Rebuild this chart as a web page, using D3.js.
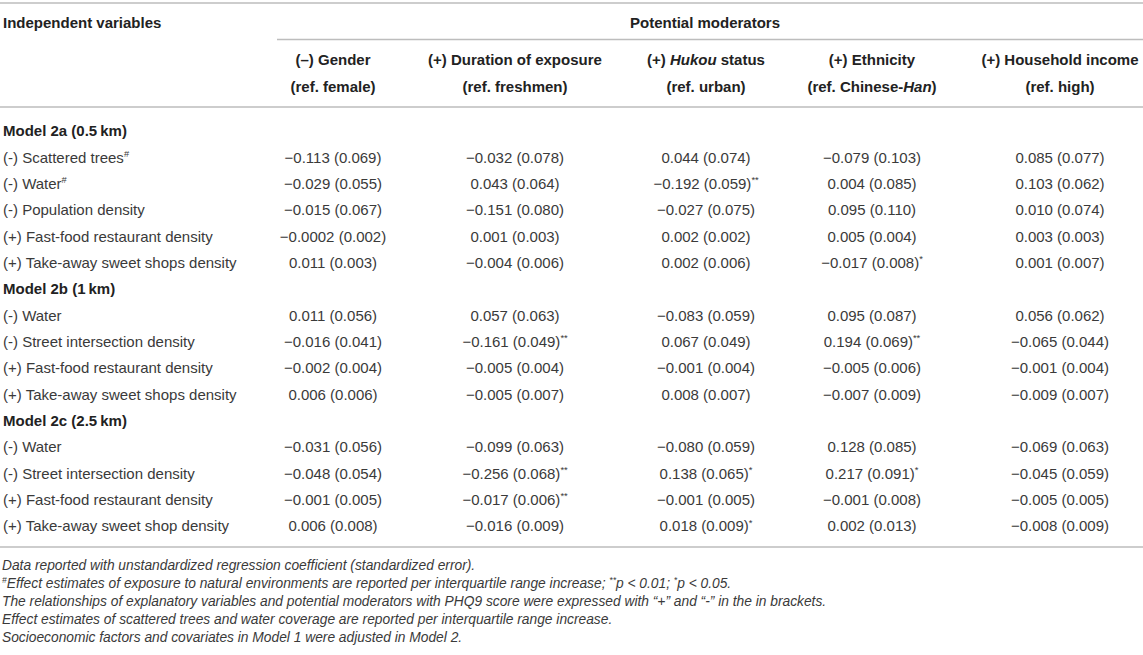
<!DOCTYPE html>
<html><head><meta charset="utf-8">
<script src="https://cdn.jsdelivr.net/npm/d3@7"></script>
<style>body{margin:0;background:#fff} svg{display:block}</style>
</head><body><svg id="c" width="1143" height="655"></svg>
<script>
// ---- data ----
const moderators = ["(–) Gender","(+) Duration of exposure","(+) _Hukou_ status","(+) Ethnicity","(+) Household income"];
const references = ["(ref. female)","(ref. freshmen)","(ref. urban)","(ref. Chinese-_Han_)","(ref. high)"];
const groups = ["Model 2a (0.5\u2009km)","Model 2b (1\u2009km)","Model 2c (2.5\u2009km)"];
const variables2a = ["(-) Scattered trees^{#}","(-) Water^{#}","(-) Population density","(+) Fast-food restaurant density","(+) Take-away sweet shops density"];
const values2a = [
 ["−0.113 (0.069)","−0.032 (0.078)","0.044 (0.074)","−0.079 (0.103)","0.085 (0.077)"],
 ["−0.029 (0.055)","0.043 (0.064)","−0.192 (0.059)^{**}","0.004 (0.085)","0.103 (0.062)"],
 ["−0.015 (0.067)","−0.151 (0.080)","−0.027 (0.075)","0.095 (0.110)","0.010 (0.074)"],
 ["−0.0002 (0.002)","0.001 (0.003)","0.002 (0.002)","0.005 (0.004)","0.003 (0.003)"],
 ["0.011 (0.003)","−0.004 (0.006)","0.002 (0.006)","−0.017 (0.008)^{*}","0.001 (0.007)"]];
const variables2b = ["(-) Water","(-) Street intersection density","(+) Fast-food restaurant density","(+) Take-away sweet shops density"];
const values2b = [
 ["0.011 (0.056)","0.057 (0.063)","−0.083 (0.059)","0.095 (0.087)","0.056 (0.062)"],
 ["−0.016 (0.041)","−0.161 (0.049)^{**}","0.067 (0.049)","0.194 (0.069)^{**}","−0.065 (0.044)"],
 ["−0.002 (0.004)","−0.005 (0.004)","−0.001 (0.004)","−0.005 (0.006)","−0.001 (0.004)"],
 ["0.006 (0.006)","−0.005 (0.007)","0.008 (0.007)","−0.007 (0.009)","−0.009 (0.007)"]];
const variables2c = ["(-) Water","(-) Street intersection density","(+) Fast-food restaurant density","(+) Take-away sweet shop density"];
const values2c = [
 ["−0.031 (0.056)","−0.099 (0.063)","−0.080 (0.059)","0.128 (0.085)","−0.069 (0.063)"],
 ["−0.048 (0.054)","−0.256 (0.068)^{**}","0.138 (0.065)^{*}","0.217 (0.091)^{*}","−0.045 (0.059)"],
 ["−0.001 (0.005)","−0.017 (0.006)^{**}","−0.001 (0.005)","−0.001 (0.008)","−0.005 (0.005)"],
 ["0.006 (0.008)","−0.016 (0.009)","0.018 (0.009)^{*}","0.002 (0.013)","−0.008 (0.009)"]];
const footnotes = [
 "Data reported with unstandardized regression coefficient (standardized error).",
 "^{#}Effect estimates of exposure to natural environments are reported per interquartile range increase; ^{**}p < 0.01; ^{*}p < 0.05.",
 "The relationships of explanatory variables and potential moderators with PHQ9 score were expressed with “+” and “-” in the in brackets.",
 "Effect estimates of scattered trees and water coverage are reported per interquartile range increase.",
 "Socioeconomic factors and covariates in Model 1 were adjusted in Model 2."];

// ---- layout ----
const W = 1143, FS = 15;
const svg = d3.select("#c");
const font = "'Liberation Sans', Arial, Helvetica, sans-serif";
const textCol = "#3a3a3a", boldCol = "#222", ruleCol = "#bdbdbd";

const rows = [];
[[groups[0], variables2a, values2a],[groups[1], variables2b, values2b],[groups[2], variables2c, values2c]]
 .forEach(([g, vars, vals]) => {
   rows.push({type:"group", label:g});
   vars.forEach((v,i) => rows.push({type:"row", label:v, cells:vals[i]}));
 });

const y = d3.scalePoint().domain(d3.range(rows.length)).range([131, 526]);
const x = d3.scaleOrdinal().domain(d3.range(moderators.length)).range([333, 515, 706, 872, 1060]);

function rich(sel, str, size) {
  const parts = str.split(/(\^\{[^}]*\}|_[^_]*_)/).filter(s => s.length);
  let raised = false;
  parts.forEach(p => {
    const t = sel.append("tspan");
    if (p.startsWith("^{")) {
      t.text(p.slice(2, -1)).attr("font-size", size*0.62).attr("dy", -size*0.38);
      raised = true;
    } else {
      if (p.startsWith("_") && p.endsWith("_") && p.length > 1) { t.text(p.slice(1,-1)).attr("font-style","italic"); }
      else t.text(p);
      if (raised) { t.attr("dy", size*0.38); raised = false; }
    }
  });
}

function rule(y0, x0, x1) {
  svg.append("line").attr("x1", x0).attr("x2", x1).attr("y1", y0).attr("y2", y0)
    .attr("stroke", ruleCol).attr("stroke-width", 1.6);
}
rule(3, 0, W); rule(39.5, 277, W); rule(107, 0, W); rule(547, 0, W);

const base = 5.2;
function txt(px, py, anchor, weight, col) {
  return svg.append("text").attr("x", px).attr("y", py + base).attr("text-anchor", anchor)
    .attr("font-family", font).attr("font-size", FS).attr("font-weight", weight).attr("fill", col);
}

txt(3, 22.7, "start", "bold", boldCol).text("Independent variables");
txt(630, 22.7, "start", "bold", boldCol).text("Potential moderators");
moderators.forEach((m, i) => rich(txt(x(i), 59.5, "middle", "bold", boldCol), m, FS));
references.forEach((m, i) => rich(txt(x(i), 86.3, "middle", "bold", boldCol), m, FS));

rows.forEach((r, i) => {
  if (r.type === "group") {
    txt(3, y(i), "start", "bold", boldCol).text(r.label);
  } else {
    rich(txt(3, y(i), "start", "normal", textCol), r.label, FS);
    r.cells.forEach((c, j) => rich(txt(x(j), y(i), "middle", "normal", textCol), c, FS));
  }
});

// footnotes (condensed italic)
const fnY = d3.scalePoint().domain(d3.range(footnotes.length)).range([565, 637]);
const fnFont = "'Liberation Sans Narrow', 'Liberation Sans', Arial, sans-serif";
const FFS = 14;
const fnG = svg.append("g");
const fnSel = footnotes.map((f, i) => {
  const t = fnG.append("text").attr("x", 0).attr("y", fnY(i) + 5)
    .attr("font-family", fnFont).attr("font-size", FFS).attr("font-style", "italic").attr("fill", textCol);
  rich(t, f, FFS);
  return t;
});
const w0 = fnSel[0].node().getComputedTextLength();
const sx = Math.min(1, 474 / w0);
fnG.attr("transform", `translate(2,0) scale(${sx},1)`);
</script></body></html>
